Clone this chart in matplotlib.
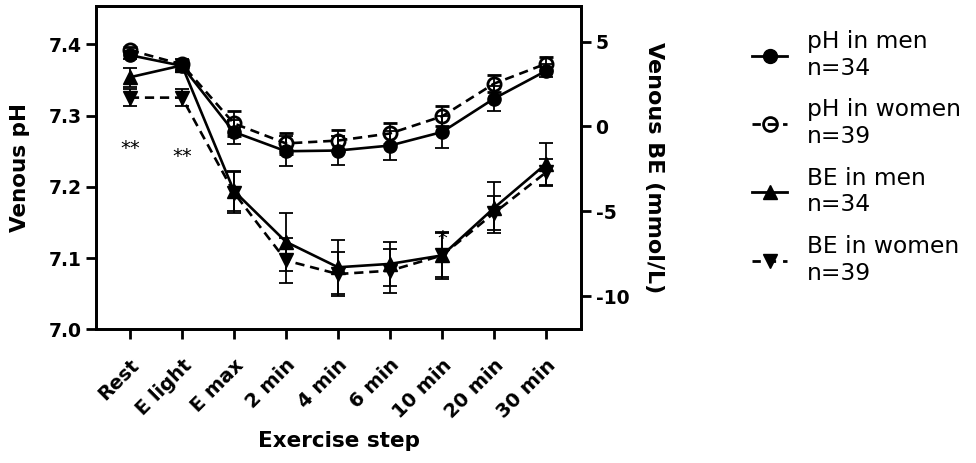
import matplotlib
matplotlib.use("Agg")
import matplotlib.pyplot as plt
from matplotlib.lines import Line2D

plt.rcParams.update({
    "font.family": ["DejaVu Sans"],
    "axes.linewidth": 2.0,
    "axes.unicode_minus": False,
    "xtick.major.width": 2.0, "ytick.major.width": 2.0,
    "xtick.major.size": 7, "ytick.major.size": 7,
})

steps = ["Rest", "E light", "E max", "2 min", "4 min", "6 min", "10 min", "20 min", "30 min"]

ph_men = [7.385, 7.370, 7.277, 7.250, 7.251, 7.258, 7.277, 7.324, 7.363]
ph_men_err = [0.006, 0.006, 0.017, 0.021, 0.020, 0.021, 0.023, 0.017, 0.009]
ph_women = [7.392, 7.372, 7.289, 7.261, 7.265, 7.275, 7.299, 7.345, 7.373]
ph_women_err = [0.005, 0.006, 0.017, 0.015, 0.015, 0.015, 0.014, 0.012, 0.009]

be_men = [2.9, 3.6, -3.8, -6.8, -8.3, -8.1, -7.6, -4.8, -2.2]
be_men_err = [0.55, 0.4, 1.2, 1.7, 1.6, 1.3, 1.4, 1.5, 1.25]
be_women = [1.7, 1.7, -3.9, -7.9, -8.7, -8.5, -7.6, -5.1, -2.7]
be_women_err = [0.5, 0.5, 1.2, 1.3, 1.3, 1.3, 1.3, 1.0, 0.8]

ph_ticks = [7.0, 7.1, 7.2, 7.3, 7.4]
be_ticks = [-10, -5, 0, 5]

# significance marks: (step index, value, text)
ph_stars = [(0, 7.254, "**"), (1, 7.243, "**")]
be_stars = [(6, -6.6, "*")]

labels = ["pH in men\nn=34", "pH in women\nn=39", "BE in men\nn=34", "BE in women\nn=39"]

x = list(range(len(steps)))

fig = plt.figure(figsize=(9.76, 4.63), dpi=100)
ax = fig.add_axes([0.0984, 0.289, 0.4969, 0.698])
ax2 = ax.twinx()

dash = (0, (3.5, 2.2))
err_kw = dict(color="black", capsize=5, elinewidth=1.3, capthick=1.3, lw=1.9)
ax.errorbar(x, ph_men, yerr=ph_men_err, marker="o", ms=9.5, mfc="black",
            mec="black", ls="-", **err_kw)
ax.errorbar(x, ph_women, yerr=ph_women_err, marker="o", ms=9.5, mfc="none",
            mec="black", mew=2.0, ls=dash, **err_kw)
ax2.errorbar(x, be_men, yerr=be_men_err, marker="^", ms=9.5, mfc="black",
             mec="black", ls="-", **err_kw)
ax2.errorbar(x, be_women, yerr=be_women_err, marker="v", ms=9.5, mfc="black",
             mec="black", ls=dash, **err_kw)

for i, v, s in ph_stars:
    ax.text(i, v, s, ha="center", va="center", fontsize=14)
for i, v, s in be_stars:
    ax2.text(i, v, s, ha="center", va="center", fontsize=14)

ax.set_xlim(-0.65, 8.67)
ax.set_ylim(7.0, 7.454)
ax2.set_ylim(-11.95, 7.1)
ax.set_yticks(ph_ticks)
ax.set_yticklabels([f"{t:.1f}" for t in ph_ticks])
ax2.set_yticks(be_ticks)
ax.set_xticks(x)
ax.set_xticklabels(steps, rotation=45, ha="right", va="top",
                   rotation_mode="anchor")

for a in (ax, ax2):
    a.tick_params(labelsize=13.5, width=2.0, length=7)
    for lab in a.get_xticklabels() + a.get_yticklabels():
        lab.set_fontweight("bold")
ax.tick_params(axis="x", labelsize=14, pad=12)

ax.set_ylabel("Venous pH", fontsize=15.5, fontweight="bold", labelpad=13)
ax2.set_ylabel("Venous BE (mmol/L)", fontsize=16, fontweight="bold",
               rotation=-90, labelpad=25)
ax.set_xlabel("Exercise step", fontsize=15.5, fontweight="bold", labelpad=7)

handles = [
    Line2D([], [], color="black", lw=2, marker="o", ms=10, mfc="black"),
    Line2D([], [], color="black", lw=2, ls=(0, (3, 2.5)), marker="o", ms=10,
           mfc="none", mew=2),
    Line2D([], [], color="black", lw=2, marker="^", ms=10, mfc="black"),
    Line2D([], [], color="black", lw=2, ls=(0, (3, 2.5)), marker="v", ms=10,
           mfc="black"),
]
fig.legend(handles, labels, loc="upper left", bbox_to_anchor=(0.761, 0.955),
           frameon=False, fontsize=16.8, handlelength=1.5, labelspacing=0.8,
           handletextpad=0.85, borderaxespad=0)

fig.savefig("out.png", dpi=100)
